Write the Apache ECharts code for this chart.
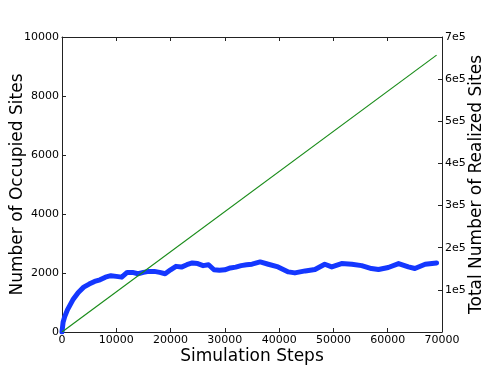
<!DOCTYPE html>
<html>
<head>
<meta charset="utf-8">
<script src="https://cdn.jsdelivr.net/npm/echarts@6/dist/echarts.min.js"></script>
<style>
  html, body { margin: 0; padding: 0; background: #fff; }
  #chart { width: 491px; height: 371px; }
</style>
</head>
<body>
<div id="chart"></div>
<script>
// simulation steps where the occupied-site count was read
const steps = [0, 200, 500, 1000, 2000, 3000, 4000, 5000, 6000, 7000, 8000, 9000,
  10000, 11000, 12000, 13000, 14000, 15000, 16000, 17000, 18000, 19000,
  20000, 21000, 22000, 23000, 24000, 25000, 26000, 27000, 28000, 29000,
  30000, 31000, 32000, 33000, 34000, 35000, 36500, 38000, 39800, 41700,
  42900, 44800, 46600, 48400, 49700, 51500, 53400, 55200, 57000, 58300,
  60100, 62000, 63800, 65000, 66900, 69000]
// number of occupied sites (left axis)
const occupied = [0, 330, 520, 750, 1090, 1340, 1520, 1625, 1715, 1770, 1860, 1910,
  1885, 1860, 2020, 2020, 1975, 2020, 2055, 2055, 2020, 1975,
  2110, 2225, 2200, 2280, 2340, 2320, 2250, 2280, 2110, 2090,
  2110, 2170, 2200, 2250, 2280, 2300, 2376, 2297, 2207, 2038,
  2004, 2071, 2117, 2297, 2207, 2320, 2297, 2250, 2151, 2117,
  2185, 2320, 2207, 2151, 2297, 2342]
// total number of realized sites (right axis)
const realizedSteps = [0, 69000]
const realized = [0, 657000]

const xTicks = { min: 0, max: 70000, interval: 10000 }
const leftTicks = { min: 0, max: 10000, interval: 2000 }
const rightTicks = { min: 0, max: 700000, interval: 100000 }

const chart = echarts.init(document.getElementById('chart'))

const spine = '#222'
const tickLabel = { color: '#000', fontSize: 11, fontFamily: 'DejaVu Sans' }
const titleFont = { color: '#000', fontSize: 17, fontFamily: 'DejaVu Sans' }
const plain = v => String(v)
const ticks = { inside: true, length: 4, lineStyle: { color: spine } }
const line = { show: true, onZero: false, lineStyle: { color: spine } }

const option = {
  animation: false,
  backgroundColor: '#fff',
  grid: {
    left: 62, right: 49, top: 37, bottom: 39,
    containLabel: false, outerBoundsMode: 'none',
    show: false
  },
  xAxis: [
    {
      type: 'value', ...xTicks, position: 'bottom',
      name: 'Simulation Steps', nameLocation: 'middle', nameGap: 16, nameMoveOverlap: false,
      nameTextStyle: titleFont,
      axisLine: line,
      axisTick: ticks,
      axisLabel: { ...tickLabel, margin: 3, formatter: plain },
      splitLine: { show: false }
    },
    {
      type: 'value', ...xTicks, position: 'top',
      axisLine: line,
      axisTick: ticks,
      axisLabel: { show: false },
      splitLine: { show: false }
    }
  ],
  yAxis: [
    {
      type: 'value', ...leftTicks, position: 'left',
      name: 'Number of Occupied Sites', nameLocation: 'middle', nameGap: 36, nameMoveOverlap: false,
      nameTextStyle: titleFont,
      axisLine: line,
      axisTick: ticks,
      axisLabel: { ...tickLabel, margin: 3, formatter: plain },
      splitLine: { show: false }
    },
    {
      type: 'value', ...rightTicks, position: 'right',
      name: 'Total Number of Realized Sites', nameLocation: 'middle', nameGap: 26, nameMoveOverlap: false,
      nameTextStyle: titleFont,
      axisLine: line,
      axisTick: ticks,
      axisLabel: { ...tickLabel, margin: 3, formatter: v => v === 0 ? '' : (v / 100000) + 'e5' },
      splitLine: { show: false }
    }
  ],
  series: [
    {
      type: 'line', xAxisIndex: 0, yAxisIndex: 0,
      data: steps.map((s, i) => [s, occupied[i]]),
      showSymbol: false,
      lineStyle: { color: '#1437ff', width: 5, join: 'round', cap: 'round' },
      z: 2
    },
    {
      type: 'line', xAxisIndex: 0, yAxisIndex: 1,
      data: realizedSteps.map((s, i) => [s, realized[i]]),
      showSymbol: false,
      lineStyle: { color: '#1a8c1a', width: 1.2 },
      z: 3
    }
  ]
}

chart.setOption(option)
</script>
</body>
</html>
